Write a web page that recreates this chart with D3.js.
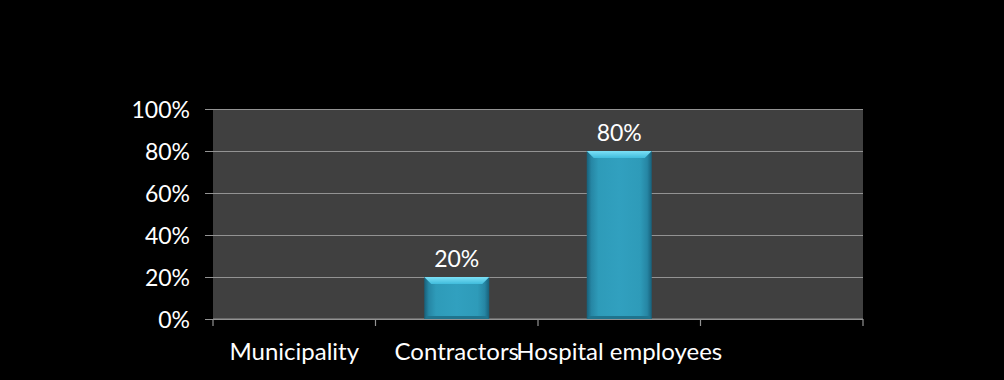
<!DOCTYPE html>
<html>
<head>
<meta charset="utf-8">
<script src="https://cdn.jsdelivr.net/npm/d3@7/dist/d3.min.js"></script>
<style>
  html, body { margin: 0; padding: 0; background: #000; }
  svg { display: block; }
  text { font-family: Lato, "DejaVu Sans", sans-serif; fill: #ffffff; }
</style>
</head>
<body>
<svg id="chart" width="1004" height="380"></svg>
<script>
// Share of workers by group
const categories = ["Municipality", "Contractors", "Hospital employees", ""];
const shares = [null, 0.2, 0.8, null];
const yTicks = [0, 0.2, 0.4, 0.6, 0.8, 1.0];

const W = 1004, H = 380;
const plot = { left: 213, right: 863, top: 109, bottom: 319 };

const svg = d3.select("#chart");
svg.append("rect").attr("width", W).attr("height", H).attr("fill", "#000");

const x = d3.scaleBand()
  .domain(categories)
  .range([plot.left, plot.right])
  .paddingInner(0.6)
  .paddingOuter(0.3);

const y = d3.scaleLinear().domain([0, 1]).range([plot.bottom, plot.top]);
const pct = d3.format(".0%");

const defs = svg.append("defs");
const side = defs.append("linearGradient").attr("id", "barBody")
  .attr("x1", "0").attr("x2", "1").attr("y1", "0").attr("y2", "0");
[[0, "#17607a"], [0.07, "#2686a4"], [0.18, "#2e9bb9"], [0.5, "#31a0bf"],
 [0.82, "#2e9bb9"], [0.93, "#2686a4"], [1, "#17607a"]]
  .forEach(([o, c]) => side.append("stop").attr("offset", o).attr("stop-color", c));
const topG = defs.append("linearGradient").attr("id", "barTop")
  .attr("x1", "0").attr("x2", "0").attr("y1", "0").attr("y2", "1");
[[0, "#7ce0f6"], [1, "#40bcdc"]]
  .forEach(([o, c]) => topG.append("stop").attr("offset", o).attr("stop-color", c));

// plot background
svg.append("rect")
  .attr("x", plot.left).attr("y", plot.top)
  .attr("width", plot.right - plot.left).attr("height", plot.bottom - plot.top)
  .attr("fill", "#404040");

// y axis with gridlines
const yAxis = d3.axisLeft(y)
  .tickValues(yTicks)
  .tickFormat(pct)
  .tickSize(-(plot.right - plot.left))
  .tickPadding(0);
const gy = svg.append("g")
  .attr("transform", `translate(${plot.left},0)`)
  .call(yAxis);
gy.select(".domain").remove();
gy.selectAll(".tick line")
  .attr("x1", -8)
  .attr("stroke", "#939393").attr("stroke-width", 1.2);
gy.selectAll(".tick text")
  .attr("x", -23)
  .attr("font-size", 23)
  .attr("font-family", "Lato, sans-serif")
  .attr("fill", "#fff")
  .attr("dy", "0.35em");

// x axis: category boundaries as tick marks
const gx = svg.append("g").attr("class", "x-axis");
gx.append("line")
  .attr("x1", plot.left).attr("x2", plot.right)
  .attr("y1", plot.bottom).attr("y2", plot.bottom)
  .attr("stroke", "#939393").attr("stroke-width", 1.2);
const bounds = categories.map((c, i) => plot.left + i * ((plot.right - plot.left) / categories.length));
bounds.push(plot.right);
gx.selectAll("line.tk").data(bounds).join("line")
  .attr("class", "tk")
  .attr("x1", d => d).attr("x2", d => d)
  .attr("y1", plot.bottom).attr("y2", plot.bottom + 7)
  .attr("stroke", "#939393").attr("stroke-width", 1.2);
gx.selectAll("text").data(categories).join("text")
  .attr("x", d => x(d) + x.bandwidth() / 2)
  .attr("y", 360)
  .attr("text-anchor", "middle")
  .attr("font-size", 24)
  .text(d => d);

// bars
const data = categories.map((c, i) => ({ c, v: shares[i] })).filter(d => d.v != null);
const bev = 7;
const bars = svg.append("g").selectAll("g").data(data).join("g");
bars.append("rect")
  .attr("x", d => x(d.c))
  .attr("y", d => y(d.v))
  .attr("width", x.bandwidth())
  .attr("height", d => y(0) - y(d.v))
  .attr("fill", "url(#barBody)");
bars.append("path")
  .attr("d", d => {
    const x0 = x(d.c), x1 = x0 + x.bandwidth(), t = y(d.v);
    return `M${x0},${t}L${x1},${t}L${x1 - bev},${t + bev}L${x0 + bev},${t + bev}Z`;
  })
  .attr("fill", "url(#barTop)");
bars.append("path")
  .attr("d", d => {
    const x0 = x(d.c), x1 = x0 + x.bandwidth(), b = y(0);
    return `M${x0},${b}L${x1},${b}L${x1 - 3},${b - 3}L${x0 + 3},${b - 3}Z`;
  })
  .attr("fill", "#1f748e");
bars.append("text")
  .attr("x", d => x(d.c) + x.bandwidth() / 2)
  .attr("y", d => y(d.v) - 10)
  .attr("text-anchor", "middle")
  .attr("font-size", 23)
  .text(d => pct(d.v));
</script>
</body>
</html>
